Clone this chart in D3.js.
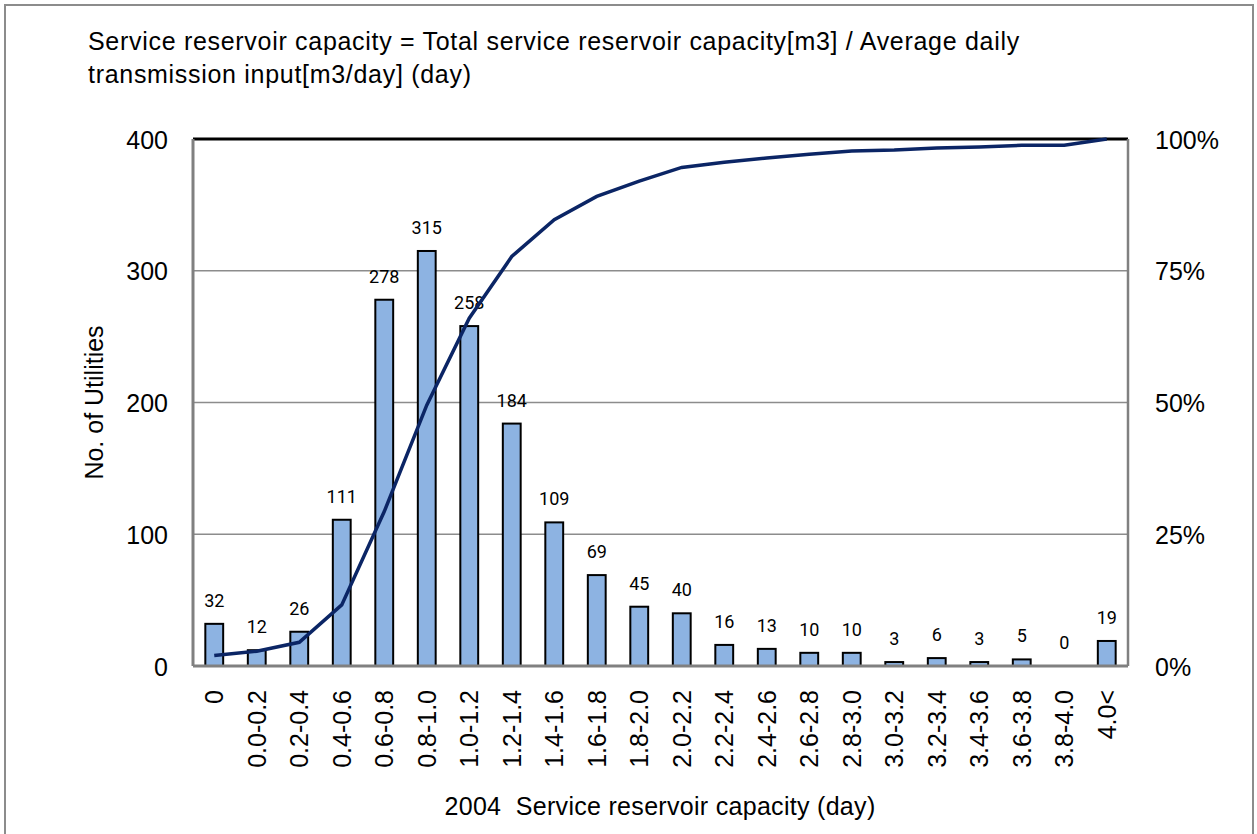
<!DOCTYPE html>
<html>
<head>
<meta charset="utf-8">
<script src="https://cdn.jsdelivr.net/npm/d3@7"></script>
<style>
  body { margin: 0; background: #fff; }
  svg text { font-family: "Liberation Sans", Arial, sans-serif; fill: #000; }
</style>
</head>
<body>
<div id="chart"></div>
<script>
const categories = ["0", "0.0-0.2", "0.2-0.4", "0.4-0.6", "0.6-0.8", "0.8-1.0", "1.0-1.2", "1.2-1.4",
  "1.4-1.6", "1.6-1.8", "1.8-2.0", "2.0-2.2", "2.2-2.4", "2.4-2.6", "2.6-2.8", "2.8-3.0",
  "3.0-3.2", "3.2-3.4", "3.4-3.6", "3.6-3.8", "3.8-4.0", "4.0<"];
const utilities = [32, 12, 26, 111, 278, 315, 258, 184, 109, 69, 45, 40, 16, 13, 10, 10, 3, 6, 3, 5, 0, 19];
// cumulative share (%)
const cumulative = [2.0, 2.8, 4.5, 11.6, 29.3, 49.5, 66.0, 77.7, 84.7, 89.1, 92.0, 94.6, 95.6, 96.4,
  97.1, 97.7, 97.9, 98.3, 98.5, 98.8, 98.8, 100];
const leftTicks = [0, 100, 200, 300, 400];
const rightTicks = [0, 25, 50, 75, 100];

const W = 1257, H = 834;
const m = { left: 193, right: 1128, top: 139, bottom: 666 };

const svg = d3.select("#chart").append("svg")
  .attr("width", W).attr("height", H);

// outer frame
svg.append("rect")
  .attr("x", 5).attr("y", 5).attr("width", W - 9).attr("height", H + 10)
  .attr("fill", "none").attr("stroke", "#8c8c8c").attr("stroke-width", 2);

const x = d3.scaleBand().domain(categories).range([m.left, m.right]).paddingInner(0.58).paddingOuter(0.29);
const y = d3.scaleLinear().domain([0, 400]).range([m.bottom, m.top]);
const y2 = d3.scaleLinear().domain([0, 100]).range([m.bottom, m.top]);

// gridlines
svg.append("g")
  .selectAll("line")
  .data(leftTicks.filter(d => d > 0 && d < 400))
  .join("line")
  .attr("x1", m.left).attr("x2", m.right)
  .attr("y1", d => y(d)).attr("y2", d => y(d))
  .attr("stroke", "#8c8c8c").attr("stroke-width", 1.5);

// plot frame
svg.append("line").attr("x1", m.left).attr("x2", m.right).attr("y1", m.top).attr("y2", m.top)
  .attr("stroke", "#000").attr("stroke-width", 3);
svg.append("line").attr("x1", m.right).attr("x2", m.right).attr("y1", m.top).attr("y2", m.bottom)
  .attr("stroke", "#808080").attr("stroke-width", 2.5);

// bars
svg.append("g")
  .selectAll("rect")
  .data(utilities)
  .join("rect")
  .attr("x", (d, i) => x(categories[i]))
  .attr("y", d => y(d))
  .attr("width", x.bandwidth())
  .attr("height", d => y(0) - y(d))
  .attr("fill", "#8db3e2")
  .attr("stroke", "#000")
  .attr("stroke-width", 2);

svg.append("line").attr("x1", m.left).attr("x2", m.left).attr("y1", m.top).attr("y2", m.bottom)
  .attr("stroke", "#808080").attr("stroke-width", 3);
svg.append("line").attr("x1", m.left).attr("x2", m.right).attr("y1", m.bottom).attr("y2", m.bottom)
  .attr("stroke", "#808080").attr("stroke-width", 3);

// bar value labels
svg.append("g")
  .selectAll("text")
  .data(utilities)
  .join("text")
  .attr("x", (d, i) => x(categories[i]) + x.bandwidth() / 2)
  .attr("y", d => y(d) - 17)
  .attr("text-anchor", "middle")
  .style("font-family", "Roboto, 'Liberation Sans', sans-serif")
  .style("font-size", "18px")
  .text(d => d);

// cumulative line
const line = d3.line()
  .x((d, i) => x(categories[i]) + x.bandwidth() / 2)
  .y(d => y2(d));
svg.append("path")
  .datum(cumulative)
  .attr("d", line)
  .attr("fill", "none")
  .attr("stroke", "#0b2565")
  .attr("stroke-width", 3.5);

// left axis
const yAxis = svg.append("g")
  .attr("transform", `translate(${m.left - 25},0)`)
  .call(d3.axisLeft(y).tickValues(leftTicks).tickSize(0).tickPadding(0));
yAxis.select(".domain").remove();
yAxis.selectAll("text").style("font-size", "25px").attr("dy", "0.36em");

// right axis
const y2Axis = svg.append("g")
  .attr("transform", `translate(${m.right + 27},0)`)
  .call(d3.axisRight(y2).tickValues(rightTicks).tickSize(0).tickPadding(0).tickFormat(d => d + "%"));
y2Axis.select(".domain").remove();
y2Axis.selectAll("text").style("font-size", "25px").attr("dy", "0.36em");

// x axis labels (rotated)
const xAxis = svg.append("g")
  .attr("transform", `translate(0,${m.bottom + 24})`)
  .call(d3.axisBottom(x).tickSize(0).tickPadding(0));
xAxis.select(".domain").remove();
xAxis.selectAll("text")
  .style("font-size", "25px")
  .attr("transform", "rotate(-90)")
  .attr("text-anchor", "end")
  .attr("x", 0)
  .attr("y", 0)
  .attr("dy", "0.36em");

// axis titles
svg.append("text")
  .attr("transform", `translate(103,${(m.top + m.bottom) / 2}) rotate(-90)`)
  .attr("text-anchor", "middle")
  .style("font-size", "25px")
  .text("No. of Utilities");

svg.append("text")
  .attr("x", 660).attr("y", 815)
  .attr("text-anchor", "middle")
  .style("font-size", "25px")
  .style("letter-spacing", "0.3px")
  .style("white-space", "pre")
  .text("2004  Service reservoir capacity (day)");

// title
const title = svg.append("text").style("font-size", "25px").style("letter-spacing", "0.7px");
title.append("tspan").attr("x", 88).attr("y", 50)
  .text("Service reservoir capacity = Total service reservoir capacity[m3] / Average daily");
title.append("tspan").attr("x", 88).attr("y", 83)
  .text("transmission input[m3/day] (day)");
</script>
</body>
</html>
